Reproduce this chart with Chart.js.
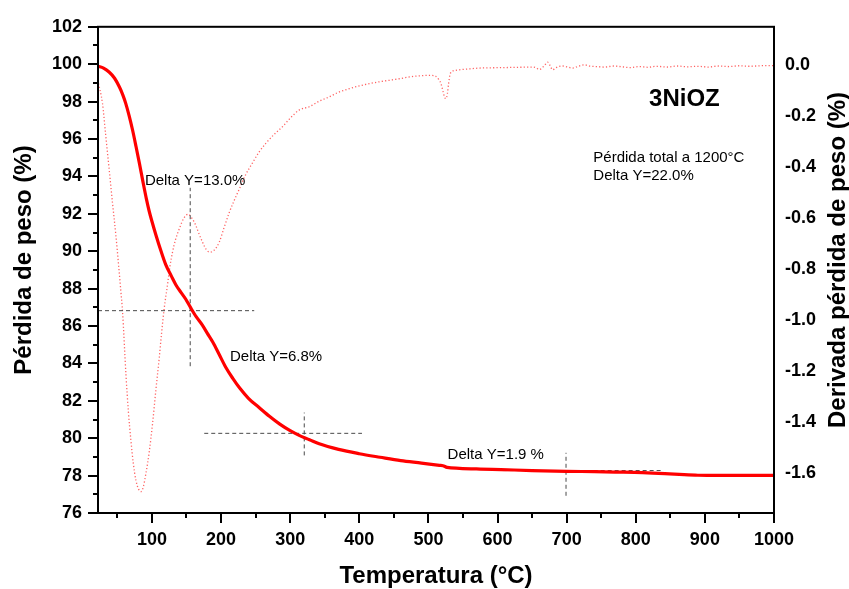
<!DOCTYPE html>
<html>
<head>
<meta charset="utf-8">
<script src="https://cdn.jsdelivr.net/npm/chart.js@4.4.1/dist/chart.umd.min.js"></script>
<style>
  html, body { margin: 0; padding: 0; background: #fff; }
  canvas { display: block; }
</style>
</head>
<body>
<canvas id="graficoTG" width="849" height="589"></canvas>
<script>
// Curva TG (pérdida de peso, %)
const tempTG = [22, 30, 38, 46, 53, 58, 62, 67, 72, 77, 82, 87, 92, 96, 100, 106, 113, 120, 128, 135, 142,
    149, 156, 164, 173, 180, 188, 197, 207, 217, 227, 240, 255, 270, 285, 300, 313, 328, 342, 370, 400,
    430, 460, 490, 516, 521, 527, 545, 575, 605, 650, 700, 740, 770, 810, 842, 870, 890, 920, 960, 1000];
const pesoTG = [99.89, 99.79, 99.58, 99.25, 98.78, 98.35, 97.92, 97.25, 96.48, 95.6, 94.68, 93.72, 92.8, 92.15, 91.6, 90.84, 90.02, 89.28, 88.68, 88.18, 87.8,
    87.43, 86.98, 86.5, 86.05, 85.62, 85.14, 84.5, 83.78, 83.2, 82.68, 82.12, 81.64, 81.17, 80.75, 80.4, 80.15, 79.92, 79.7, 79.4, 79.17,
    78.98, 78.8, 78.67, 78.55, 78.53, 78.44, 78.39, 78.35, 78.32, 78.27, 78.23, 78.21, 78.19, 78.16, 78.11, 78.05, 78.02, 78.01, 78.01, 78.01];

// Curva DTG (derivada)
const tempDTG = [22.7, 28.5, 33, 38.2, 43, 47.9, 52, 55.1, 57.5, 62.4, 66, 69.6, 73, 76.8, 80.5, 84.1, 87.5, 91.3, 96, 100.9,
    105.5, 110.6, 114, 117.8, 122.6, 126, 129.8, 134, 139.5, 146, 152.5, 158, 163.7, 168, 173.3, 178, 183.9, 190, 197.4, 204,
    211.9, 219, 226.3, 235, 245.6, 255, 265, 277, 289, 300, 313, 327.6, 342, 356.6, 370, 385.5, 400, 414.5, 429, 443.4,
    458, 472.4, 485, 496.5, 505, 511, 515, 518.2, 521, 523.5, 525.5, 527.5, 529.2, 531, 532.7, 538, 544.7, 560, 573.7, 590,
    612, 630, 650.8, 656, 660.5, 665, 669, 672.5, 676, 679.7, 685, 694, 700, 708.7, 716, 725.6, 733, 742.5, 755, 768,
    780, 792, 805, 818, 830, 845, 860, 875, 890, 905, 920, 935, 950, 965, 980, 1000];
const derivDTG = [-0.07, -0.149, -0.27, -0.409, -0.54, -0.668, -0.79, -0.888, -0.966, -1.212, -1.36, -1.472, -1.56, -1.628, -1.662, -1.673, -1.655, -1.602, -1.52, -1.407,
    -1.28, -1.148, -1.05, -0.953, -0.86, -0.79, -0.733, -0.685, -0.642, -0.6, -0.584, -0.6, -0.629, -0.66, -0.694, -0.72, -0.733, -0.725, -0.694, -0.64,
    -0.577, -0.53, -0.486, -0.432, -0.382, -0.34, -0.305, -0.27, -0.24, -0.207, -0.175, -0.162, -0.14, -0.123, -0.105, -0.091, -0.08, -0.071, -0.064, -0.058,
    -0.052, -0.045, -0.041, -0.039, -0.039, -0.043, -0.055, -0.071, -0.1, -0.125, -0.13, -0.11, -0.071, -0.04, -0.026, -0.02, -0.017, -0.013, -0.01, -0.009,
    -0.008, -0.007, -0.006, -0.009, -0.016, -0.008, 0.004, 0.013, 0.0, -0.017, -0.008, -0.002, -0.005, -0.01, -0.004, 0.003, -0.002, -0.004, -0.006, -0.002,
    -0.005, -0.008, -0.004, -0.007, -0.003, -0.006, -0.002, -0.005, -0.003, -0.006, -0.002, -0.004, -0.001, -0.003, -0.001, 0.0];

// Líneas guía: horizontales [x inicio, x fin, y] y verticales [x, y inicio, y fin]
const guiasH = [[22, 248, 86.82], [175.7, 403.9, 80.26], [607.4, 837.5, 78.27]];
const guiasV = [[155.4, 83.85, 93.39], [320.4, 79.08, 81.37], [699.1, 76.92, 79.22]];

// Ticks de los ejes
const ticksX = [100, 200, 300, 400, 500, 600, 700, 800, 900, 1000];
const ticksY = [76, 78, 80, 82, 84, 86, 88, 90, 92, 94, 96, 98, 100, 102];
const ticksY1 = [0, -0.2, -0.4, -0.6, -0.8, -1.0, -1.2, -1.4, -1.6];

// Textos sobre la gráfica [texto, temperatura, % peso, negrita]
const notas = [
    ['Delta Y=13.0%', 89.9, 93.78, false],
    ['Delta Y=6.8%', 212.9, 84.34, false],
    ['Delta Y=1.9 %', 527.8, 79.12, false],
    ['3NiOZ', 819.2, 98.11, true],
    ['Pérdida total a 1200°C', 738.6, 94.99, false],
    ['Delta Y=22.0%', 738.6, 94.01, false]
];

const FUENTE = '"Liberation Sans", Arial, Helvetica, sans-serif';
const fuenteTicks = { family: FUENTE, size: 18, weight: 'bold' };

const guiaEstilo = {
    borderColor: '#4a4a4a',
    borderWidth: 1,
    borderDash: [4, 3],
    pointRadius: 0,
    fill: false,
    yAxisID: 'y'
};

const datasets = [
    {
        label: 'TG',
        data: tempTG.map((t, i) => ({ x: t, y: pesoTG[i] })),
        borderColor: '#ff0000',
        borderWidth: 3.2,
        pointRadius: 0,
        cubicInterpolationMode: 'monotone',
        yAxisID: 'y'
    }
];
guiasH.forEach(g => datasets.push(Object.assign({ data: [{ x: g[0], y: g[2] }, { x: g[1], y: g[2] }] }, guiaEstilo)));
guiasV.forEach(g => datasets.push(Object.assign({ data: [{ x: g[0], y: g[1] }, { x: g[0], y: g[2] }] }, guiaEstilo)));
datasets.push({
    label: 'DTG',
    data: tempDTG.map((t, i) => ({ x: t, y: derivDTG[i] })),
    borderColor: 'rgba(255, 30, 30, 0.7)',
    borderWidth: 1.3,
    borderDash: [1.2, 2.2],
    pointRadius: 0,
    cubicInterpolationMode: 'monotone',
    yAxisID: 'y1'
});

const marcoYTextos = {
    id: 'marcoYTextos',
    beforeDraw(chart) {
        const ctx = chart.ctx;
        ctx.save();
        ctx.fillStyle = '#fff';
        ctx.fillRect(0, 0, chart.width, chart.height);
        ctx.restore();
    },
    afterDraw(chart) {
        const ctx = chart.ctx;
        const a = chart.chartArea;
        const sx = chart.scales.x, sy = chart.scales.y;
        ctx.save();

        // marco
        ctx.strokeStyle = '#000';
        ctx.lineWidth = 2;
        ctx.strokeRect(a.left, a.top, a.right - a.left, a.bottom - a.top);

        // marcas del eje izquierdo (mayores cada 2, menores cada 1)
        ctx.lineWidth = 2;
        ctx.beginPath();
        for (let v = 76; v <= 102; v++) {
            const py = Math.round(sy.getPixelForValue(v));
            const len = v % 2 === 0 ? 10 : 5;
            ctx.moveTo(a.left, py);
            ctx.lineTo(a.left - len, py);
        }
        // marcas del eje inferior (mayores cada 100, menores cada 50)
        for (let t = 50; t <= 1000; t += 50) {
            const px = Math.round(sx.getPixelForValue(t));
            const len = t % 100 === 0 ? 10 : 5;
            ctx.moveTo(px, a.bottom);
            ctx.lineTo(px, a.bottom + len);
        }
        ctx.stroke();

        // textos
        ctx.fillStyle = '#000';
        ctx.textBaseline = 'middle';
        ctx.textAlign = 'left';
        notas.forEach(n => {
            ctx.font = n[3] ? 'bold 24px ' + FUENTE : '15px ' + FUENTE;
            ctx.fillText(n[0], sx.getPixelForValue(n[1]), sy.getPixelForValue(n[2]));
        });

        // títulos de ejes
        ctx.font = 'bold 24px ' + FUENTE;
        ctx.textAlign = 'center';
        ctx.textBaseline = 'alphabetic';
        ctx.fillText('Temperatura (°C)', (a.left + a.right) / 2, 583);

        ctx.save();
        ctx.translate(31, 260);
        ctx.rotate(-Math.PI / 2);
        ctx.fillText('Pérdida de peso (%)', 0, 0);
        ctx.restore();

        ctx.save();
        ctx.translate(845, 260);
        ctx.rotate(-Math.PI / 2);
        ctx.fillText('Derivada pérdida de peso (%)', 0, 0);
        ctx.restore();

        ctx.restore();
    }
};

new Chart(document.getElementById('graficoTG'), {
    type: 'line',
    data: { datasets: datasets },
    options: {
        responsive: false,
        animation: false,
        devicePixelRatio: 1,
        layout: { padding: { top: 23, left: 0, right: 0, bottom: 0 } },
        plugins: {
            legend: { display: false },
            tooltip: { enabled: false }
        },
        scales: {
            x: {
                type: 'linear',
                min: 22,
                max: 1000,
                afterBuildTicks: s => { s.ticks = ticksX.map(v => ({ value: v })); },
                afterFit: s => { s.height = 76; },
                grid: { display: false, drawTicks: false },
                border: { display: false },
                ticks: {
                    font: fuenteTicks,
                    color: '#000',
                    padding: 16,
                    maxRotation: 0,
                    autoSkip: false,
                    callback: v => String(v)
                }
            },
            y: {
                position: 'left',
                min: 76,
                max: 102,
                afterBuildTicks: s => { s.ticks = ticksY.map(v => ({ value: v })); },
                afterFit: s => { s.width = 98; },
                grid: { display: false, drawTicks: false },
                border: { display: false },
                ticks: { font: fuenteTicks, color: '#000', padding: 16 }
            },
            y1: {
                position: 'right',
                min: -1.757,
                max: 0.152,
                afterBuildTicks: s => { s.ticks = ticksY1.map(v => ({ value: v })); },
                afterFit: s => { s.width = 75; },
                grid: { display: false, drawTicks: false },
                border: { display: false },
                ticks: {
                    font: fuenteTicks,
                    color: '#000',
                    padding: 11,
                    callback: v => v.toFixed(1)
                }
            }
        }
    },
    plugins: [marcoYTextos]
});
</script>
</body>
</html>
